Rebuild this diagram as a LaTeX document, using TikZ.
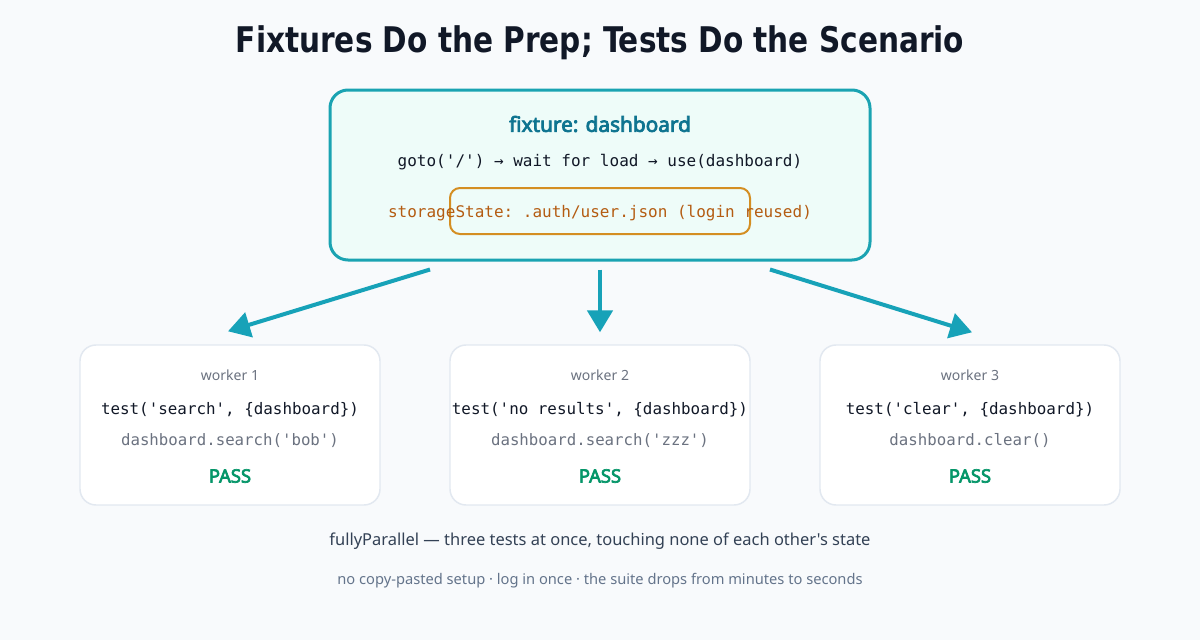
\documentclass[tikz,border=0pt]{standalone}
\usepackage{fontspec}
\setmainfont{Noto Sans}[Ligatures=TeXOff]
\setmonofont{DejaVu Sans Mono}
\newfontfamily\titlefont{DejaVu Sans Condensed}[FakeStretch=0.93]
\newfontfamily\headsans{Noto Sans}[FakeBold=3.6]
\usetikzlibrary{arrows.meta,positioning,calc}
\definecolor{pagebg}{RGB}{248,250,252}
\definecolor{fixfill}{RGB}{238,252,249}
\definecolor{fixline}{RGB}{26,163,178}
\definecolor{fixhead}{RGB}{14,116,144}
\definecolor{authline}{RGB}{212,142,34}
\definecolor{authtext}{RGB}{180,92,18}
\definecolor{flowcol}{RGB}{23,162,184}
\definecolor{cardline}{RGB}{226,232,240}
\definecolor{inkdark}{RGB}{17,24,39}
\definecolor{inkgray}{RGB}{107,114,128}
\definecolor{passgreen}{RGB}{5,150,105}
\definecolor{notedark}{RGB}{51,65,85}
\definecolor{notegray}{RGB}{100,116,139}
\newcommand{\workerbox}[5]{%
  \node[card] (#1) at (#2,425) {};
  \node[wlab] at ($(#1.center)+(0,-50)$) {#3};
  \node[tcall] at ($(#1.center)+(0,-15)$) {#4};
  \node[tstep] at ($(#1.center)+(0,16)$) {#5};
  \node[pass] at ($(#1.center)+(0,51)$) {PASS};}
\tikzset{
  fixbox/.style={draw=fixline, fill=fixfill, line width=2.25pt, rounded corners=13.5pt,
    minimum width=405pt, minimum height=127.5pt},
  authbox/.style={draw=authline, line width=1.5pt, rounded corners=7.5pt,
    minimum width=225pt, minimum height=34.5pt},
  card/.style={draw=cardline, fill=white, line width=1.1pt, rounded corners=12pt,
    minimum width=225pt, minimum height=120pt},
  ttl/.style={font=\titlefont\bfseries\fontsize{26.5}{32}\selectfont, text=inkdark},
  fhead/.style={font=\headsans\fontsize{15.6}{18}\selectfont, text=fixhead},
  fcode/.style={font=\ttfamily\fontsize{12}{14}\selectfont, text=inkdark},
  acode/.style={font=\ttfamily\fontsize{12}{14}\selectfont, text=authtext},
  wlab/.style={font=\fontsize{10.5}{13}\selectfont, text=inkgray},
  tcall/.style={font=\ttfamily\fontsize{11.9}{14}\selectfont, text=inkdark},
  tstep/.style={font=\ttfamily\fontsize{11.8}{14}\selectfont, text=inkgray},
  pass/.style={font=\headsans\fontsize{13.8}{16}\selectfont, text=passgreen},
  flow/.style={-{Triangle[length=16.5pt, width=19pt]}, flowcol, line width=3pt},
  note/.style={font=\fontsize{12.35}{15}\selectfont, text=notedark},
  subnote/.style={font=\fontsize{11}{13}\selectfont, text=notegray},
}
\begin{document}
\begin{tikzpicture}[x=0.75pt, y=-0.75pt]
  \fill[pagebg] (0,0) rectangle (1200,640);
  \useasboundingbox (0,0) rectangle (1200,640);

  \node[ttl] (title) at (600,43) {Fixtures Do the Prep; Tests Do the Scenario};

  % fixture
  \node[fixbox] (fix) at (600,175) {};
  \node[fhead] (fixname) at (600,124) {fixture: dashboard};
  \node[fcode] (fixsteps) at (600,162) {goto('/') → wait for load → use(dashboard)};
  \node[authbox] (auth) at (600,211) {};
  \node[acode] (authtxt) at (600,213) {storageState: .auth/user.json (login reused)};

  % workers
  \workerbox{w1}{230}{worker 1}{test('search', \{dashboard\})}{dashboard.search('bob')}
  \workerbox{w2}{600}{worker 2}{test('no results', \{dashboard\})}{dashboard.search('zzz')}
  \workerbox{w3}{970}{worker 3}{test('clear', \{dashboard\})}{dashboard.clear()}

  \draw[flow] ($(fix.south)+(-170,8)$) -- ($(w1.north)+(-2,-13)$);
  \draw[flow] ($(fix.south)+(0,8)$) -- ($(w2.north)+(0,-12)$);
  \draw[flow] ($(fix.south)+(170,8)$) -- ($(w3.north)+(2,-12)$);

  \node[note] (par) at (600,541) {fullyParallel — three tests at once, touching none of each other's state};
  \node[subnote] (gain) at (600,581) {no copy-pasted setup · log in once · the suite drops from minutes to seconds};
\end{tikzpicture}
\end{document}
